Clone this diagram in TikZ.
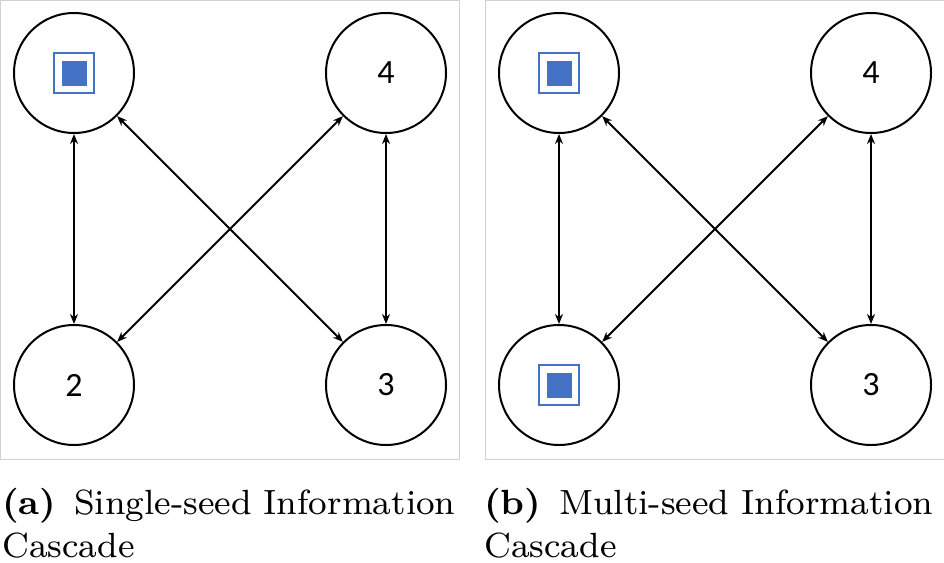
\documentclass[tikz,border=0pt]{standalone}
\usepackage{fontspec}
\newfontfamily\labelfont{Carlito}
\newfontfamily\capfont{lmroman8-regular.otf}[BoldFont=lmroman8-bold.otf]
\usetikzlibrary{arrows.meta}
\definecolor{seedblue}{HTML}{4472C4}
\definecolor{framegray}{HTML}{D0D0D0}
\begin{document}
\begin{tikzpicture}[x=1pt, y=-1pt,
  >={Stealth[length=10pt, width=8pt]},
  user/.style={circle, draw, line width=2pt, minimum size=120pt, inner sep=0pt, font=\labelfont\fontsize{34}{34}\selectfont},
  seedring/.style={rectangle, draw=seedblue, line width=2.5pt, minimum size=40pt, inner sep=0pt},
  seedfill/.style={rectangle, fill=seedblue, minimum size=25pt, inner sep=0pt},
  link/.style={<->, line width=1.8pt},
  caption/.style={anchor=base west, inner sep=0pt, text width=470pt, align=left, font=\capfont\fontsize{35}{43}\selectfont}]
\useasboundingbox (0,0) rectangle (944,562);
% panel frames
\draw[framegray, line width=1pt] (0.5,0.5) rectangle (459,459);
\draw[framegray, line width=1pt] (485,0.5) rectangle (946,459);
% (a) single seed
\node[user] (a1) at (74,73){};
\node[seedring] (a1ring) at (74,73){};
\node[seedfill] (a1seed) at (74,73){};
\node[user] (a4) at (386,73){4};
\node[user] (a2) at (74,385){2};
\node[user] (a3) at (386,385){3};
\draw[link](a1) -- (a2);
\draw[link](a4) -- (a3);
\draw[link](a1) -- (a3);
\draw[link](a4) -- (a2);
% (b) multi seed
\node[user] (b1) at (559,73){};
\node[seedring] (b1ring) at (559,73){};
\node[seedfill] (b1seed) at (559,73){};
\node[user] (b4) at (871,73){4};
\node[user] (b2) at (559,385){};
\node[seedring] (b2ring) at (559,385){};
\node[seedfill] (b2seed) at (559,385){};
\node[user] (b3) at (871,385){3};
\draw[link](b1) -- (b2);
\draw[link](b4) -- (b3);
\draw[link](b1) -- (b3);
\draw[link](b4) -- (b2);
% captions
\node[caption] (capa) at (2,514){\textbf{(a)}\hspace{6pt} Single-seed Information\\Cascade};
\node[caption] (capb) at (484,514){\textbf{(b)}\hspace{6pt} Multi-seed Information\\Cascade};
\end{tikzpicture}
\end{document}
